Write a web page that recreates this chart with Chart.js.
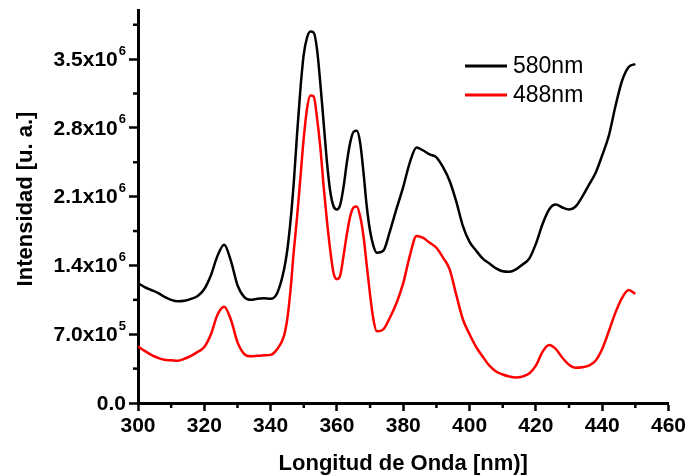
<!DOCTYPE html>
<html>
<head>
<meta charset="utf-8">
<script src="https://cdn.jsdelivr.net/npm/chart.js@4.4.1/dist/chart.umd.min.js"></script>
<style>
body { margin: 0; background: #fff; }
#wrap { width: 689px; height: 476px; position: relative; }
</style>
</head>
<body>
<div id="wrap"><canvas id="spectra"></canvas></div>
<script>
// wavelengths (nm)
var wavelengths = [300,302,304,306,308,310,312,314,316,318,320,322,324,326,328,330,332,334,336,338,340,342,
	344,345,346,347,348,349,350,351,352,353,354,355,356,357,358,359,360,361,362,363,364,365,366,367,368,369,370,371,372,
	374,376,378,380,382,384,386,388,390,392,394,396,398,400,402,404,406,408,410,412,414,416,418,420,422,424,426,428,430,
	432,434,436,438,440,442,444,446,448,450];

// intensities in units of 1e6
var exc580 = [1.22,1.18,1.15,1.12,1.08,1.05,1.035,1.04,1.06,1.09,1.16,1.30,1.50,1.61,1.45,1.20,1.08,1.05,1.06,1.065,1.06,1.12,
	1.35,1.55,1.85,2.25,2.75,3.2,3.55,3.72,3.78,3.77,3.6,3.25,2.85,2.45,2.15,2.0,1.97,2.02,2.2,2.45,2.65,2.76,2.77,2.65,2.35,2.0,1.75,1.6,1.53,
	1.55,1.75,1.98,2.2,2.45,2.6,2.57,2.53,2.5,2.4,2.26,2.05,1.8,1.64,1.55,1.47,1.42,1.37,1.34,1.335,1.36,1.41,1.47,1.62,1.82,1.97,2.02,1.99,1.97,
	2.0,2.1,2.22,2.34,2.52,2.72,3.02,3.28,3.42,3.45];

var exc488 = [0.575,0.53,0.49,0.46,0.44,0.435,0.43,0.45,0.48,0.52,0.57,0.70,0.90,0.98,0.85,0.62,0.50,0.475,0.48,0.485,0.49,0.55,
	0.68,0.85,1.15,1.55,1.9,2.3,2.7,3.0,3.13,3.12,2.9,2.6,2.2,1.85,1.55,1.32,1.26,1.3,1.5,1.72,1.9,1.99,2.0,1.9,1.7,1.4,1.1,0.85,0.73,
	0.75,0.87,1.02,1.22,1.5,1.7,1.68,1.63,1.58,1.48,1.36,1.1,0.85,0.7,0.57,0.47,0.38,0.32,0.29,0.27,0.26,0.27,0.30,0.38,0.52,0.59,0.55,0.46,0.39,
	0.36,0.365,0.38,0.43,0.55,0.73,0.92,1.07,1.15,1.11];

var seriesNames = ['580nm', '488nm'];
var seriesColours = ['#000000', '#ff0000'];

var xTicks = [300,320,340,360,380,400,420,440,460];
var xMinor = [310,330,350,370,390,410,430,450];
var yTicks = [0, 0.7e6, 1.4e6, 2.1e6, 2.8e6, 3.5e6];
var yMinor = [0.35e6, 1.05e6, 1.75e6, 2.45e6, 3.15e6, 3.85e6];
var yTickLabels = [['0.0',''], ['7.0x10','5'], ['1.4x10','6'], ['2.1x10','6'], ['2.8x10','6'], ['3.5x10','6']];

var toPoints = function(values) {
	return values.map(function(v, i) { return { x: wavelengths[i], y: v * 1e6 }; });
};

var extras = {
	id: 'extras',
	afterDraw: function(chart) {
		var ctx = chart.ctx;
		var xs = chart.scales.x, ys = chart.scales.y;
		var area = chart.chartArea;
		ctx.save();
		ctx.strokeStyle = '#000';
		ctx.lineWidth = 2.5;
		// minor ticks
		xMinor.forEach(function(v) {
			var px = xs.getPixelForValue(v);
			ctx.beginPath(); ctx.moveTo(px, area.bottom); ctx.lineTo(px, area.bottom + 5); ctx.stroke();
		});
		yMinor.forEach(function(v) {
			var py = ys.getPixelForValue(v);
			ctx.beginPath(); ctx.moveTo(area.left, py); ctx.lineTo(area.left - 5, py); ctx.stroke();
		});
		// y labels with exponents
		ctx.fillStyle = '#000';
		ctx.textBaseline = 'middle';
		yTicks.forEach(function(v, i) {
			var py = ys.getPixelForValue(v);
			var main = yTickLabels[i][0], sup = yTickLabels[i][1];
			var right = 126;
			ctx.font = 'bold 13px "Liberation Sans", Arial, sans-serif';
			var sw = sup ? ctx.measureText(sup).width : 0;
			if (sup) {
				ctx.textAlign = 'right';
				ctx.fillText(sup, right, py - 8);
			}
			ctx.font = 'bold 21px "Liberation Sans", Arial, sans-serif';
			ctx.textAlign = 'right';
			ctx.fillText(main, right - sw - (sup ? 1 : 0), py + 1);
		});
		// axis titles
		ctx.font = 'bold 22px "Liberation Sans", Arial, sans-serif';
		ctx.textAlign = 'center';
		ctx.fillText('Longitud de Onda [nm)]', (area.left + area.right) / 2, 464);
		ctx.save();
		ctx.translate(26, 199);
		ctx.rotate(-Math.PI / 2);
		ctx.fillText('Intensidad [u. a.]', 0, 0);
		ctx.restore();
		// legend
		ctx.font = '23px "Liberation Sans", Arial, sans-serif';
		ctx.textAlign = 'left';
		chart.data.datasets.forEach(function(ds, i) {
			var ly = 66 + i * 29;
			ctx.strokeStyle = ds.borderColor;
			ctx.lineWidth = 3;
			ctx.beginPath(); ctx.moveTo(465, ly); ctx.lineTo(507, ly); ctx.stroke();
			ctx.fillStyle = '#000';
			ctx.fillText(ds.label, 513, ly + 1);
		});
		ctx.restore();
	}
};

var config = {
	type: 'line',
	data: {
		datasets: [
			{ label: seriesNames[0], data: toPoints(exc580), borderColor: seriesColours[0], borderWidth: 2.5, pointRadius: 0, cubicInterpolationMode: 'monotone', fill: false },
			{ label: seriesNames[1], data: toPoints(exc488), borderColor: seriesColours[1], borderWidth: 2.5, pointRadius: 0, cubicInterpolationMode: 'monotone', fill: false }
		]
	},
	options: {
		responsive: true,
		maintainAspectRatio: false,
		animation: false,
		layout: { padding: { top: 10, right: 20, left: 0, bottom: 0 } },
		plugins: { legend: { display: false }, tooltip: { enabled: false } },
		scales: {
			x: {
				type: 'linear',
				min: 300, max: 460,
				afterBuildTicks: function(scale) { scale.ticks = xTicks.map(function(v) { return { value: v }; }); },
				afterFit: function(scale) { scale.height = 73; },
				grid: { drawOnChartArea: false, drawTicks: true, tickLength: 8, tickWidth: 2.5, tickColor: '#000' },
				border: { display: true, color: '#000', width: 3 },
				ticks: { color: '#000', padding: 3, maxRotation: 0, font: { family: '"Liberation Sans", Arial, sans-serif', size: 21, weight: 'bold' } }
			},
			y: {
				type: 'linear',
				min: 0, max: 4.0e6,
				afterBuildTicks: function(scale) { scale.ticks = yTicks.map(function(v) { return { value: v }; }); },
				afterFit: function(scale) { scale.width = 138; },
				grid: { drawOnChartArea: false, drawTicks: true, tickLength: 9, tickWidth: 2.5, tickColor: '#000' },
				border: { display: true, color: '#000', width: 3 },
				ticks: { display: false }
			}
		}
	},
	plugins: [extras]
};

var ctx = document.getElementById('spectra').getContext('2d');
window.spectraChart = new Chart(ctx, config);
</script>
</body>
</html>
